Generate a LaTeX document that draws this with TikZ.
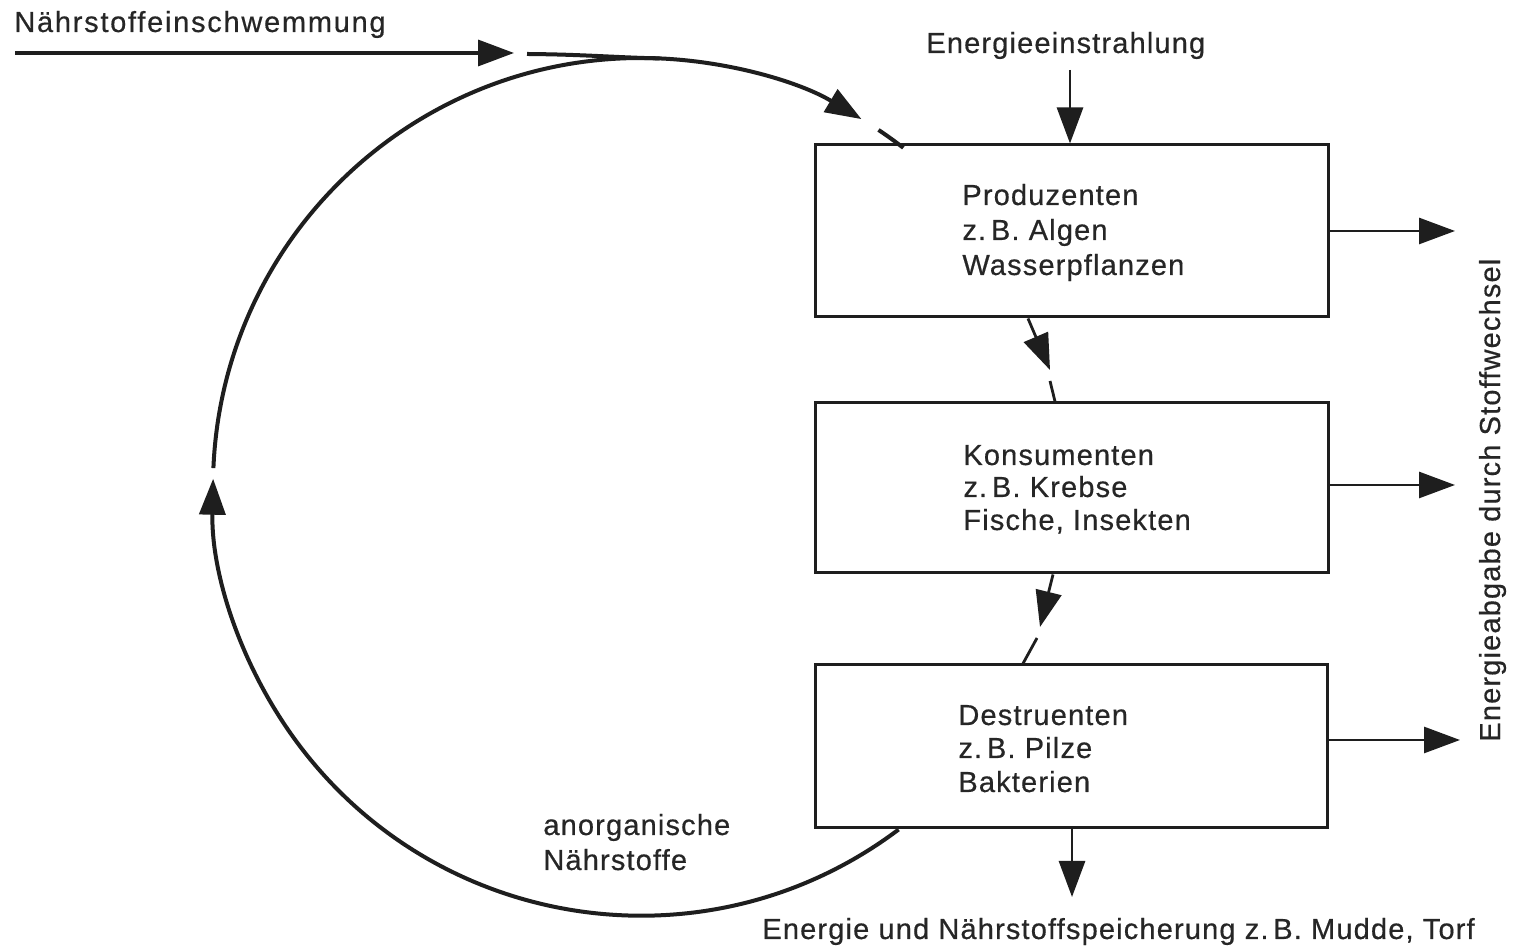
\documentclass[tikz,border=0pt]{standalone}
\usepackage{fontspec}
\newfontfamily\lab{Liberation Sans}[LetterSpace=4,FakeBold=0.5]
\newfontfamily\labw{Liberation Sans}[LetterSpace=6,FakeBold=0.5]
\newfontfamily\labb{Liberation Sans}[LetterSpace=4,FakeBold=0.5]
\usetikzlibrary{arrows.meta,calc}
\definecolor{ink}{HTML}{1E1E1E}
\definecolor{txt}{HTML}{262626}
\begin{document}
\begin{tikzpicture}[x=0.5pt,y=0.5pt,
  box/.style={draw=ink, line width=1.5pt, minimum width=256.5pt, inner sep=0pt},
  lbl/.style={font=\lab\fontsize{14.5}{16}\selectfont, text=txt, inner sep=0pt, anchor=base west},
  tip/.style={-{Triangle[length=18pt,width=13pt]}},
  arr/.style={draw=ink, line width=1.4pt, tip},
  ln/.style={draw=ink, line width=1.4pt},
  ring/.style={draw=ink, line width=2pt},
]
\useasboundingbox (0,0) rectangle (1513,946);
\fill[white] (0,0) rectangle (1513,946);

% boxes
\node[box, minimum height=86pt] (P) at (1071.5,715) {};
\node[box, minimum height=85pt] (K) at (1071.5,458) {};
\node[box, minimum width=256pt, minimum height=81.5pt] (D) at (1071,199.5) {};

% texts
\node[lbl, font=\labw\fontsize{14.5}{16}\selectfont] (tin) at (14,914) {Nährstoffeinschwemmung};
\node[lbl] (tein) at (926,893) {Energieeinstrahlung};
\node[lbl] (p1) at (962,741) {Produzenten};
\node[lbl] (p2) at (962,706) {z.\,B. Algen};
\node[lbl] (p3) at (962,671) {Wasserpflanzen};
\node[lbl] (k1) at (963,481) {Konsumenten};
\node[lbl] (k2) at (963,449) {z.\,B. Krebse};
\node[lbl] (k3) at (963,416) {Fische, Insekten};
\node[lbl] (d1) at (958,221) {Destruenten};
\node[lbl] (d2) at (958,188) {z.\,B. Pilze};
\node[lbl] (d3) at (958,154) {Bakterien};
\node[lbl] (an1) at (543,111) {anorganische};
\node[lbl] (an2) at (543,76) {Nährstoffe};
\node[lbl, font=\labb\fontsize{14.5}{16}\selectfont] (sp) at (762,7) {Energie und Nährstoffspeicherung z.\,B. Mudde, Torf};
\node[lbl, rotate=90] (ab) at (1500,204) {Energieabgabe durch Stoffwechsel};

% cycle
\coordinate (C) at (641,460);
\coordinate (a1) at ($(C)+(177.6:214pt)$);
\coordinate (a2) at ($(C)+(56.3:214pt)$);
\coordinate (j2) at ($(C)+(87.5:214pt)$);
\draw[ring, tip] ([xshift=-86.2pt]D.south) arc[start angle=-53, end angle=-181.2, radius=214pt];
\draw[ring, tip] (a1) arc[start angle=177.6, end angle=59, radius=214pt];
\draw[ring] (a2) arc[start angle=56.3, end angle=52.2, radius=214pt];

% inflow
\coordinate (src) at (15,893);
\coordinate (inT) at (514,893);
\coordinate (j1) at (527,892);
\draw[arr, line width=1.7pt] (src) -- (inT);
\draw[ring] (j1) .. controls (585,891.5) and (615,888.5) .. (j2);

% energy input
\coordinate (eS) at (1070,876);
\draw[arr] (eS) -- (eS |- P.north);

% between boxes
\coordinate (pk) at (1050,576);
\coordinate (pk2) at (1050,565);
\draw[arr] ([xshift=-21.75pt]P.south) -- (pk);
\draw[ln] (pk2) -- ([xshift=-8.25pt]K.north);
\coordinate (kd) at (1040,319);
\coordinate (kd2) at (1037,308);
\draw[arr] ([xshift=-9.25pt]K.south) -- (kd);
\draw[ln] (kd2) -- ([xshift=-24pt]D.north);

% outputs
\coordinate (oP) at (1455,715);
\coordinate (oK) at (1455,461);
\coordinate (oD) at (1460,206);
\draw[arr] (P.east) -- (oP);
\draw[arr] (K.east |- oK) -- (oK);
\draw[arr] (D.east |- oD) -- (oD);
\coordinate (sto) at (1072,49);
\draw[arr] (sto |- D.south) -- (sto);
\end{tikzpicture}
\end{document}
